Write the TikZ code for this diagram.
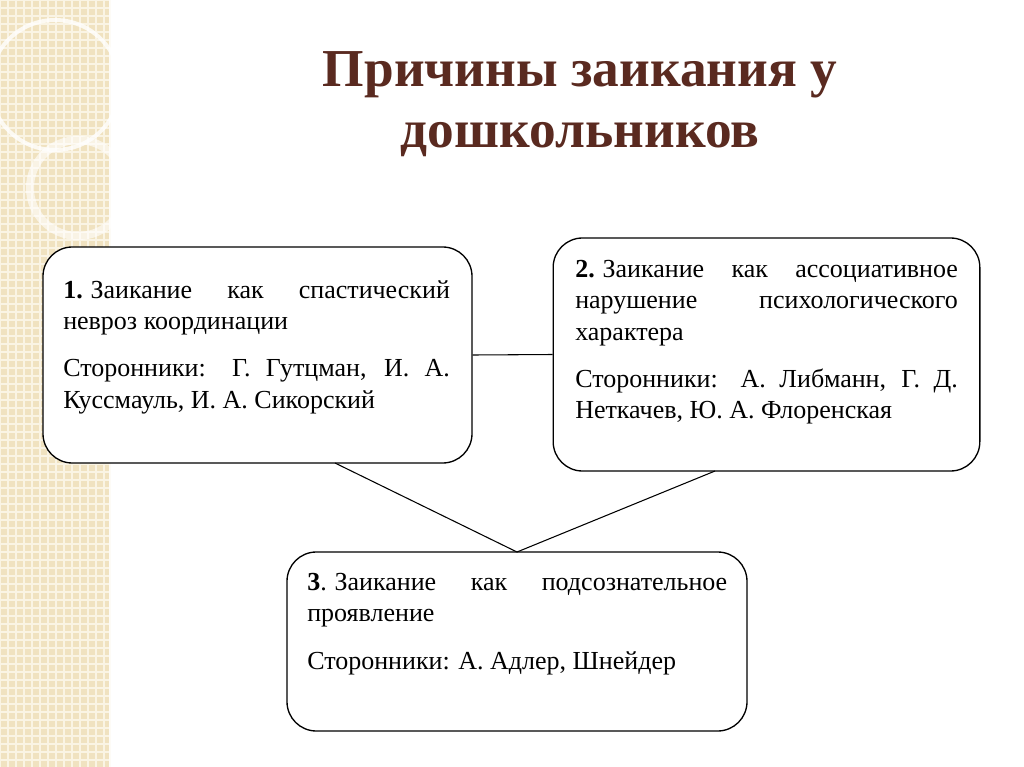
\documentclass[tikz,border=0pt]{standalone}
\usepackage{fontspec}
\setmainfont{Liberation Serif}
\begin{document}
\begin{tikzpicture}[x=0.75pt,y=-0.75pt,
  box/.style={draw,line width=1pt,rounded corners=22pt,fill=white},
  txt/.style={anchor=north west,align=justify,inner sep=0pt,font=\fontsize{19.5}{23.5}\selectfont}]
\definecolor{strip}{RGB}{240,226,192}
\definecolor{grid}{RGB}{250,244,228}
\definecolor{ttl}{RGB}{90,42,32}
\useasboundingbox (0,0) rectangle (1024,767);
\fill[white] (0,0) rectangle (1024,767);
\fill[strip] (0,0) rectangle (110,767);
\foreach \i in {0,8,...,110} \draw[grid,line width=1.2pt] (\i,0) -- (\i,767);
\foreach \j in {0,8,...,767} \draw[grid,line width=1.2pt] (0,\j) -- (110,\j);
\draw[white!85!strip,line width=2pt] (110,0) -- (110,767);
\draw[white,line width=3pt,opacity=0.8] (55,85) circle (65);
\draw[white,line width=6pt,opacity=0.6] (78,188) circle (48);
\node[font=\fontsize{40}{46}\selectfont\bfseries,text=ttl,align=center] (title) at (580,104) {Причины заикания у\\дошкольников};
\node[box,minimum width=321.75pt,minimum height=162pt] (b1) at (257.5,355) {};
\node[box,minimum width=320pt,minimum height=174.75pt] (b2) at (766.5,354.5) {};
\node[box,minimum width=345pt,minimum height=134.25pt] (b3) at (517,641.5) {};
\draw[line width=0.8pt] (b1.east) -- (b2.west);
\coordinate (m) at (517,552);
\draw[line width=0.8pt] (335,463) -- (m) -- (715,471);
\node[txt,text width=290pt] (t1) at (63,280) {\textbf{1.}\hspace{0.3em}Заикание как спастический невроз координации\par\vspace{12pt}Сторонники: Г. Гутцман, И. А. Куссмауль, И. А. Сикорский};
\node[txt,text width=287pt] (t2) at (575,260) {\textbf{2.}\hspace{0.3em}Заикание как ассоциативное нарушение психологического характера\par\vspace{12pt}Сторонники: А. Либманн, Г. Д. Неткачев, Ю. А. Флоренская};
\node[txt,text width=315pt] (t3) at (307,573) {\textbf{3}.\hspace{0.3em}Заикание как подсознательное проявление\par\vspace{12pt}Сторонники: А. Адлер, Шнейдер};
\end{tikzpicture}
\end{document}
